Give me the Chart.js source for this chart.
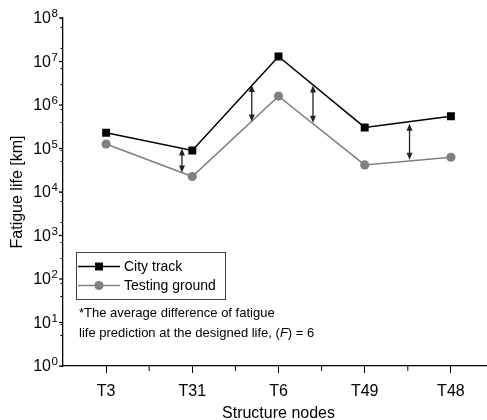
<!DOCTYPE html>
<html>
<head>
<meta charset="utf-8">
<script src="https://cdn.jsdelivr.net/npm/chart.js@4.4.1/dist/chart.umd.min.js"></script>
<style>
html, body { margin: 0; padding: 0; background: #fff; overflow: hidden; }
#wrap { width: 500px; height: 420px; }
</style>
</head>
<body>
<div id="wrap"><canvas id="myChart" width="500" height="420"></canvas></div>
<script>
// data
const nodes = ['T3', 'T31', 'T6', 'T49', 'T48'];
const cityTrack = [2.3e5, 9.0e4, 1.3e7, 3.05e5, 5.5e5];
const testingGround = [1.27e5, 2.27e4, 1.6e6, 4.2e4, 6.3e4];
const decadeExp = [0, 1, 2, 3, 4, 5, 6, 7, 8];
// double arrows between the two curves (x in category units)
const arrowAt = [0.88, 1.69, 2.40, 3.52];
const arrowTop = [1.0e5, 2.9e6, 2.8e6, 3.7e5];
const arrowBottom = [2.8e4, 4.2e5, 3.9e5, 5.5e4];
const noteLine1 = '*The average difference of fatigue';
const noteLine2 = ['life prediction at the designed life, (', 'F', ') = 6'];

const FONT = "'Liberation Sans', Arial, sans-serif";

function arrowHead(ctx, x, y, dir) {
    ctx.beginPath();
    ctx.moveTo(x, y);
    ctx.lineTo(x - 3, y + dir * 7);
    ctx.lineTo(x + 3, y + dir * 7);
    ctx.closePath();
    ctx.fill();
}

const decorations = {
    id: 'decorations',
    afterDatasetsDraw: function (chart) {
        const ctx = chart.ctx;
        const xs = chart.scales.x, ys = chart.scales.y;
        ctx.save();
        ctx.strokeStyle = '#222';
        ctx.fillStyle = '#222';
        ctx.lineWidth = 1.3;
        for (let i = 0; i < arrowAt.length; i++) {
            const x = xs.getPixelForValue(arrowAt[i]);
            const y1 = ys.getPixelForValue(arrowTop[i]);
            const y2 = ys.getPixelForValue(arrowBottom[i]);
            ctx.beginPath();
            ctx.moveTo(x, y1 + 3);
            ctx.lineTo(x, y2 - 3);
            ctx.stroke();
            arrowHead(ctx, x, y1, 1);
            arrowHead(ctx, x, y2, -1);
        }
        ctx.restore();
    },
    afterDraw: function (chart) {
        const ctx = chart.ctx;
        const xs = chart.scales.x, ys = chart.scales.y;
        const area = chart.chartArea;
        ctx.save();
        // y labels 10^n and longer major ticks
        ctx.strokeStyle = '#000';
        ctx.fillStyle = '#000';
        ctx.lineWidth = 1.2;
        decadeExp.forEach(function (e) {
            const y = ys.getPixelForValue(Math.pow(10, e));
            ctx.beginPath();
            ctx.moveTo(area.left - 4, y);
            ctx.lineTo(area.left, y);
            ctx.stroke();
            ctx.font = '16px ' + FONT;
            ctx.textAlign = 'right';
            ctx.textBaseline = 'middle';
            ctx.fillText('10', 51, y + 1);
            ctx.font = '11.5px ' + FONT;
            ctx.textAlign = 'left';
            ctx.fillText(String(e), 51.5, y - 4);
        });
        // minor ticks between categories
        ctx.lineWidth = 1;
        for (let i = 0; i < nodes.length; i++) {
            const x = xs.getPixelForValue(i + 0.5);
            ctx.beginPath();
            ctx.moveTo(x, area.bottom);
            ctx.lineTo(x, area.bottom + 5);
            ctx.stroke();
        }
        // legend box
        ctx.strokeStyle = '#444';
        ctx.lineWidth = 1;
        ctx.strokeRect(76.5, 252.5, 149, 47);
        chart.data.datasets.forEach(function (ds, i) {
            const y = 266.5 + i * 19;
            ctx.strokeStyle = ds.borderColor;
            ctx.fillStyle = ds.backgroundColor;
            ctx.lineWidth = ds.borderWidth;
            ctx.beginPath();
            ctx.moveTo(78, y);
            ctx.lineTo(120, y);
            ctx.stroke();
            Chart.helpers.drawPoint(ctx, { pointStyle: ds.pointStyle, radius: ds.pointRadius, rotation: 0, borderWidth: 0 }, 99, y);
            ctx.fillStyle = '#000';
            ctx.font = '14px ' + FONT;
            ctx.textAlign = 'left';
            ctx.textBaseline = 'middle';
            ctx.fillText(ds.label, 124, y + 1);
        });
        // note text
        ctx.fillStyle = '#000';
        ctx.font = '13px ' + FONT;
        ctx.textBaseline = 'middle';
        ctx.fillText(noteLine1, 79, 313);
        let x = 79;
        noteLine2.forEach(function (part, k) {
            ctx.font = (k === 1 ? 'italic ' : '') + '13px ' + FONT;
            ctx.fillText(part, x, 333);
            x += ctx.measureText(part).width;
        });
        ctx.restore();
    }
};

const ctx = document.getElementById('myChart').getContext('2d');
new Chart(ctx, {
    type: 'line',
    data: {
        labels: nodes,
        datasets: [{
            label: 'City track',
            data: cityTrack,
            borderColor: '#000',
            backgroundColor: '#000',
            borderWidth: 1.5,
            pointStyle: 'rect',
            pointRadius: 5.6,
            pointBorderWidth: 0,
            tension: 0
        }, {
            label: 'Testing ground',
            data: testingGround,
            borderColor: '#808080',
            backgroundColor: '#808080',
            borderWidth: 1.5,
            pointStyle: 'circle',
            pointRadius: 4.6,
            pointBorderWidth: 0,
            tension: 0
        }]
    },
    options: {
        responsive: false,
        animation: false,
        layout: { padding: { top: 18, right: 6, left: 0, bottom: 0 } },
        plugins: { legend: { display: false }, tooltip: { enabled: false } },
        scales: {
            x: {
                type: 'category',
                offset: true,
                grid: { drawOnChartArea: false, tickLength: 7, color: '#000', lineWidth: 1 },
                border: { color: '#000', width: 1.3 },
                ticks: { color: '#000', font: { family: FONT, size: 16 }, padding: 9, maxRotation: 0 },
                title: { display: true, text: 'Structure nodes', color: '#000', font: { family: FONT, size: 16, lineHeight: 0.75 }, padding: 0 },
                afterFit: function (scale) { scale.height = 54; }
            },
            y: {
                type: 'logarithmic',
                min: 1,
                max: 1e8,
                afterBuildTicks: function (scale) {
                    const t = [];
                    for (let e = 0; e < 8; e++) {
                        for (let m = 1; m < 10; m++) t.push({ value: m * Math.pow(10, e) });
                    }
                    t.push({ value: 1e8 });
                    scale.ticks = t;
                },
                grid: { drawOnChartArea: false, tickLength: 2.5, color: '#000', lineWidth: 1 },
                border: { color: '#000', width: 1.3 },
                ticks: { callback: function () { return ''; } },
                title: { display: true, text: 'Fatigue life [km]', color: '#000', font: { family: FONT, size: 16, lineHeight: 1 }, padding: { top: 10, bottom: 0 } },
                afterFit: function (scale) { scale.width = 63; }
            }
        }
    },
    plugins: [decorations]
});
</script>
</body>
</html>
